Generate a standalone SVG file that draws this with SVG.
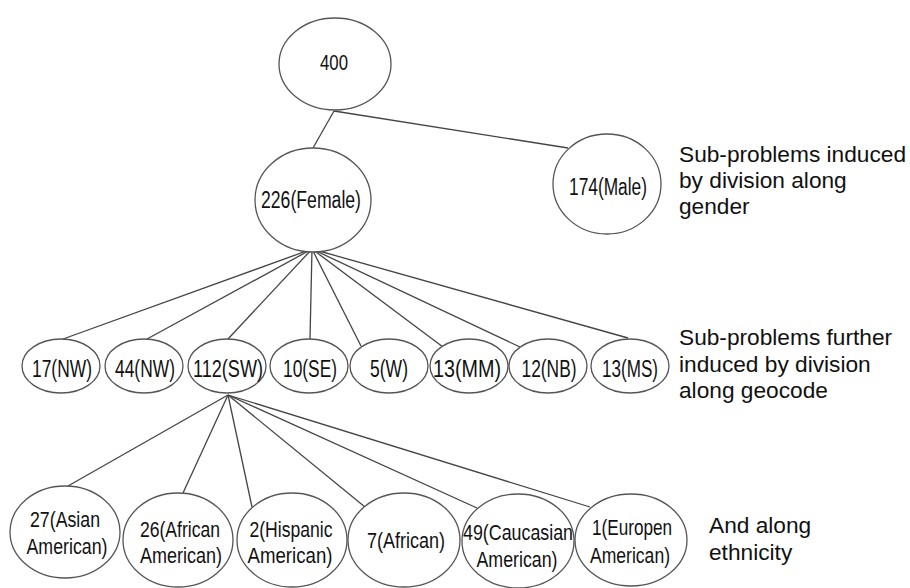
<svg xmlns="http://www.w3.org/2000/svg" width="910" height="588" viewBox="0 0 910 588">
<style>
.n ellipse{fill:#fff;stroke:#555;stroke-width:1.3}
.n text{font-family:"Liberation Sans Narrow","Arial Narrow","Liberation Sans",sans-serif;font-size:23px;fill:#111;text-anchor:middle}
.n text.s{font-size:22px}
#edges line{stroke:#444;stroke-width:1.3}
.note{font-family:"Liberation Sans",Arial,sans-serif;font-size:22.7px;fill:#111}
</style>
<rect width="910" height="588" fill="#fff"/>
<g id="edges">
<line x1="334" y1="111" x2="313" y2="148"/>
<line x1="334" y1="111" x2="568" y2="148"/>
<line x1="312" y1="249" x2="63" y2="339"/>
<line x1="312" y1="249" x2="147" y2="339"/>
<line x1="312" y1="249" x2="228" y2="339"/>
<line x1="312" y1="249" x2="310" y2="339"/>
<line x1="312" y1="249" x2="361" y2="346"/>
<line x1="312" y1="249" x2="443" y2="347"/>
<line x1="312" y1="249" x2="520" y2="347"/>
<line x1="312" y1="249" x2="628" y2="338"/>
<line x1="228" y1="395" x2="68" y2="486"/>
<line x1="228" y1="395" x2="183" y2="493"/>
<line x1="228" y1="395" x2="252" y2="507"/>
<line x1="228" y1="395" x2="365" y2="507"/>
<line x1="228" y1="395" x2="477" y2="508"/>
<line x1="228" y1="395" x2="590" y2="507"/>
</g>
<g id="n400" class="n"><ellipse cx="335" cy="64" rx="56" ry="46"/><text class="s" x="334" y="70" textLength="28" lengthAdjust="spacingAndGlyphs">400</text></g>
<g id="n226" class="n"><ellipse cx="313" cy="200" rx="58" ry="52"/><text x="311" y="208" textLength="100" lengthAdjust="spacingAndGlyphs">226(Female)</text></g>
<g id="n174" class="n"><ellipse cx="607" cy="184" rx="54" ry="50"/><text x="608" y="195" textLength="78" lengthAdjust="spacingAndGlyphs">174(Male)</text></g>
<g id="g17nw" class="n"><ellipse cx="61" cy="366" rx="39" ry="27"/><text x="62" y="377" textLength="60" lengthAdjust="spacingAndGlyphs">17(NW)</text></g>
<g id="g44nw" class="n"><ellipse cx="144" cy="366" rx="39" ry="27"/><text x="145" y="377" textLength="60" lengthAdjust="spacingAndGlyphs">44(NW)</text></g>
<g id="g112sw" class="n"><ellipse cx="227" cy="366" rx="39" ry="27"/><text x="228" y="377" textLength="70" lengthAdjust="spacingAndGlyphs">112(SW)</text></g>
<g id="g10se" class="n"><ellipse cx="309" cy="366" rx="39" ry="27"/><text x="310" y="377" textLength="54" lengthAdjust="spacingAndGlyphs">10(SE)</text></g>
<g id="g5w" class="n"><ellipse cx="389" cy="366" rx="39" ry="27"/><text x="389" y="377" textLength="38" lengthAdjust="spacingAndGlyphs">5(W)</text></g>
<g id="g13mm" class="n"><ellipse cx="469" cy="366" rx="39" ry="27"/><text x="467" y="377" textLength="68" lengthAdjust="spacingAndGlyphs">13(MM)</text></g>
<g id="g12nb" class="n"><ellipse cx="548" cy="366" rx="39" ry="27"/><text x="549" y="377" textLength="55" lengthAdjust="spacingAndGlyphs">12(NB)</text></g>
<g id="g13ms" class="n"><ellipse cx="630" cy="366" rx="39" ry="27"/><text x="630" y="377" textLength="56" lengthAdjust="spacingAndGlyphs">13(MS)</text></g>
<g id="e27" class="n"><ellipse cx="65" cy="532" rx="55" ry="46"/><text class="s" x="65" y="527" textLength="70" lengthAdjust="spacingAndGlyphs">27(Asian</text><text class="s" x="67" y="554" textLength="81" lengthAdjust="spacingAndGlyphs">American)</text></g>
<g id="e26" class="n"><ellipse cx="178" cy="540" rx="55" ry="47"/><text class="s" x="180" y="537" textLength="80" lengthAdjust="spacingAndGlyphs">26(African</text><text class="s" x="181" y="563" textLength="82" lengthAdjust="spacingAndGlyphs">American)</text></g>
<g id="e2" class="n"><ellipse cx="292" cy="540" rx="55" ry="47"/><text class="s" x="291" y="537" textLength="83" lengthAdjust="spacingAndGlyphs">2(Hispanic</text><text class="s" x="290" y="563" textLength="85" lengthAdjust="spacingAndGlyphs">American)</text></g>
<g id="e7" class="n"><ellipse cx="404" cy="540" rx="56" ry="47"/><text class="s" x="406" y="548" textLength="78" lengthAdjust="spacingAndGlyphs">7(African)</text></g>
<g id="e49" class="n"><ellipse cx="518" cy="541" rx="56" ry="47"/><text class="s" x="518" y="540" textLength="110" lengthAdjust="spacingAndGlyphs">49(Caucasian</text><text class="s" x="517" y="567" textLength="81" lengthAdjust="spacingAndGlyphs">American)</text></g>
<g id="e1" class="n"><ellipse cx="631" cy="540" rx="56" ry="46"/><text class="s" x="632" y="535" textLength="80" lengthAdjust="spacingAndGlyphs">1(Europen</text><text class="s" x="630" y="563" textLength="80" lengthAdjust="spacingAndGlyphs">American)</text></g>
<g id="notes">
<text class="note" x="679" y="162">Sub-problems induced</text>
<text class="note" x="679" y="188">by division along</text>
<text class="note" x="679" y="214">gender</text>
<text class="note" x="679" y="345">Sub-problems further</text>
<text class="note" x="679" y="372">induced by division</text>
<text class="note" x="679" y="398">along geocode</text>
<text class="note" x="709" y="533">And along</text>
<text class="note" x="709" y="560">ethnicity</text>
</g>
</svg>
